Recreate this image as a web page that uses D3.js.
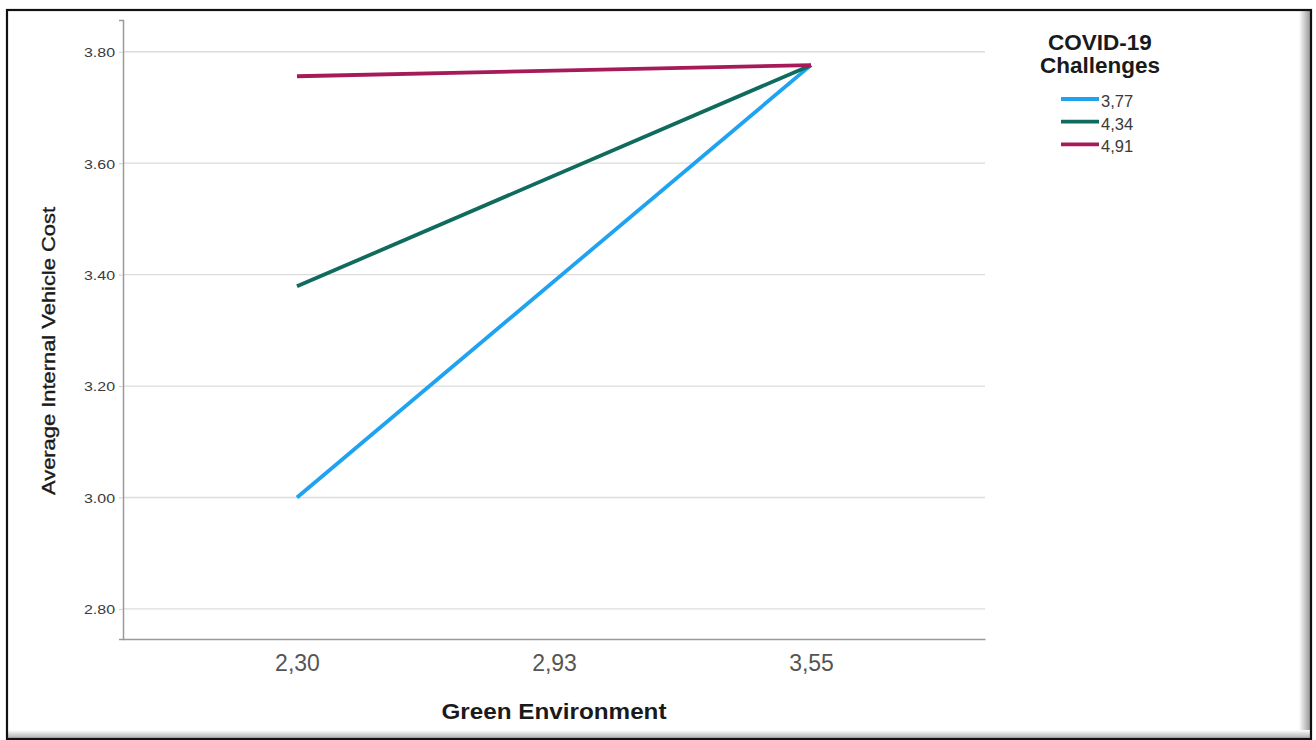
<!DOCTYPE html>
<html>
<head>
<meta charset="utf-8">
<script src="https://cdn.jsdelivr.net/npm/d3@7"></script>
<style>
  html, body { margin: 0; padding: 0; background: #ffffff; }
  svg { display: block; }
  text { font-family: "Liberation Sans", Arial, sans-serif; }
</style>
</head>
<body>
<svg id="chart" width="1316" height="740"></svg>
<script>
// Green Environment levels (mean - SD, mean, mean + SD)
const greenLevels = ["2,30", "2,93", "3,55"];
// COVID-19 Challenges moderator levels
const covidLevels = ["3,77", "4,34", "4,91"];
// Predicted Average Internal Vehicle Cost at low / high Green Environment
const lowHighLevels = ["2,30", "3,55"];
const seriesLow  = [3.000, 3.379, 3.756];
const seriesHigh = [3.776, 3.776, 3.776];
const yTicks = [2.80, 3.00, 3.20, 3.40, 3.60, 3.80];
const seriesColors = ["#1fa3f1", "#0e6b5e", "#a61a5a"];

const svg = d3.select("#chart");

// Panel frame with bevel shadow on the right and bottom edges
const defs = svg.append("defs");
const gR = defs.append("linearGradient").attr("id", "shadeR").attr("x1", 0).attr("x2", 1).attr("y1", 0).attr("y2", 0);
gR.append("stop").attr("offset", 0).attr("stop-color", "#ffffff");
gR.append("stop").attr("offset", 1).attr("stop-color", "#9a9a9a");
const gB = defs.append("linearGradient").attr("id", "shadeB").attr("x1", 0).attr("x2", 0).attr("y1", 0).attr("y2", 1);
gB.append("stop").attr("offset", 0).attr("stop-color", "#ffffff");
gB.append("stop").attr("offset", 1).attr("stop-color", "#b0b0b0");

svg.append("rect").attr("x", 1299).attr("y", 11).attr("width", 11).attr("height", 727).attr("fill", "url(#shadeR)");
svg.append("rect").attr("x", 8).attr("y", 730).attr("width", 1302).attr("height", 8).attr("fill", "url(#shadeB)");
svg.append("rect")
  .attr("x", 7).attr("y", 10).attr("width", 1304).attr("height", 729)
  .attr("fill", "none").attr("stroke", "#111").attr("stroke-width", 2.2);

// Plot area
const plot = { left: 123, right: 985, top: 20, bottom: 639 };

const x = d3.scalePoint()
  .domain(greenLevels)
  .range([plot.left, plot.right])
  .padding(0.677);

const y = d3.scaleLinear()
  .domain([2.746, 3.857])
  .range([plot.bottom, plot.top]);

// Horizontal gridlines
svg.append("g")
  .selectAll("line")
  .data(yTicks)
  .join("line")
  .attr("x1", plot.left).attr("x2", plot.right)
  .attr("y1", d => y(d)).attr("y2", d => y(d))
  .attr("stroke", "#dcdcdc").attr("stroke-width", 1.3);

// Y axis
const yAxis = svg.append("g")
  .attr("transform", `translate(${plot.left},0)`)
  .call(d3.axisLeft(y).tickValues(yTicks).tickFormat(d3.format(".2f")).tickSize(4).tickPadding(4));
yAxis.select(".domain").attr("stroke", "#9a9a9a").attr("stroke-width", 1.5);
yAxis.selectAll(".tick line").attr("stroke", "#cfcfcf");
yAxis.selectAll(".tick text")
  .attr("fill", "#3a3a3a")
  .attr("dy", "0.36em")
  .attr("textLength", 31).attr("lengthAdjust", "spacingAndGlyphs")
  .style("font-size", "13.5px")
  .style("font-family", "'Liberation Sans', Arial, sans-serif");

// X axis
const xAxis = svg.append("g")
  .attr("transform", `translate(0,${plot.bottom})`)
  .call(d3.axisBottom(x).tickSize(0).tickPadding(16));
xAxis.select(".domain").attr("stroke", "#9a9a9a").attr("stroke-width", 1.5);
xAxis.selectAll(".tick text")
  .attr("fill", "#555555")
  .style("font-size", "23px")
  .style("font-family", "'Liberation Sans', Arial, sans-serif");

// Axis titles
svg.append("text")
  .attr("x", x("2,93")).attr("y", 719)
  .attr("text-anchor", "middle")
  .attr("fill", "#1a1a1a")
  .attr("textLength", 225).attr("lengthAdjust", "spacingAndGlyphs")
  .style("font-size", "22px").style("font-weight", "bold")
  .text("Green Environment");

svg.append("text")
  .attr("transform", "translate(55,351) rotate(-90)")
  .attr("text-anchor", "middle")
  .attr("fill", "#1a1a1a")
  .attr("stroke", "#1a1a1a").attr("stroke-width", 0.35)
  .style("font-size", "18.5px")
  .attr("textLength", 288).attr("lengthAdjust", "spacingAndGlyphs")
  .text("Average Internal Vehicle Cost");

// Series lines
const rows = covidLevels.map((lvl, i) => ({
  level: lvl,
  color: seriesColors[i],
  points: [
    { g: lowHighLevels[0], v: seriesLow[i] },
    { g: lowHighLevels[1], v: seriesHigh[i] }
  ]
}));

const line = d3.line().x(d => x(d.g)).y(d => y(d.v));

svg.append("g")
  .selectAll("path")
  .data(rows)
  .join("path")
  .attr("d", d => line(d.points))
  .attr("fill", "none")
  .attr("stroke", d => d.color)
  .attr("stroke-width", 3.8);

// Legend
const legend = svg.append("g");
legend.append("text")
  .attr("x", 1100).attr("y", 50)
  .attr("text-anchor", "middle")
  .attr("fill", "#1a1a1a")
  .style("font-size", "22.5px").style("font-weight", "bold")
  .selectAll("tspan")
  .data(["COVID-19", "Challenges"])
  .join("tspan")
  .attr("x", 1100)
  .attr("dy", (d, i) => i === 0 ? 0 : 23)
  .text(d => d);

const item = legend.selectAll("g.item")
  .data(rows)
  .join("g")
  .attr("class", "item")
  .attr("transform", (d, i) => `translate(0,${99 + i * 22.7})`);
item.append("line")
  .attr("x1", 1061).attr("x2", 1099)
  .attr("stroke", d => d.color).attr("stroke-width", 3.8);
item.append("text")
  .attr("x", 1101).attr("y", 8)
  .attr("fill", "#3a3a3a")
  .style("font-size", "16.5px")
  .text(d => d.level);
</script>
</body>
</html>
